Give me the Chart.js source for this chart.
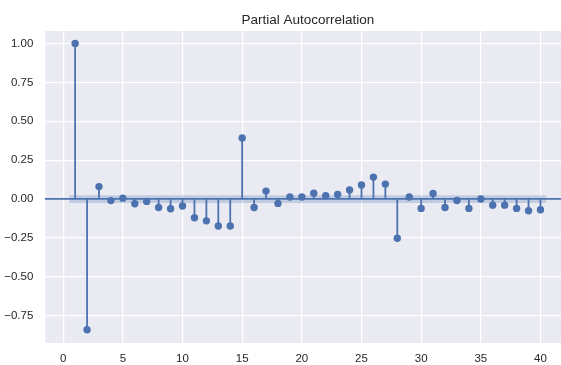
<!DOCTYPE html>
<html>
<head>
<meta charset="utf-8">
<script src="https://cdn.jsdelivr.net/npm/chart.js@4.4.0/dist/chart.umd.min.js"></script>
<style>
  html, body { margin: 0; padding: 0; background: #fff; overflow: hidden; }
  #wrap { width: 574px; height: 365px; }
</style>
</head>
<body>
<div id="wrap"><canvas id="pacfChart" width="574" height="365"></canvas></div>
<script>
// lags and partial autocorrelation values
var lags = [1, 2, 3, 4, 5, 6, 7, 8, 9, 10,
            11, 12, 13, 14, 15, 16, 17, 18, 19, 20,
            21, 22, 23, 24, 25, 26, 27, 28, 29, 30,
            31, 32, 33, 34, 35, 36, 37, 38, 39, 40];
var pacf = [1.00, -0.84, 0.08, -0.01, 0.006, -0.03, -0.015, -0.054, -0.062, -0.045,
            -0.12, -0.14, -0.173, -0.173, 0.393, -0.054, 0.051, -0.028, 0.013, 0.013,
            0.038, 0.021, 0.03, 0.058, 0.09, 0.141, 0.096, -0.252, 0.013, -0.06,
            0.036, -0.054, -0.009, -0.06, 0.0, -0.039, -0.039, -0.06, -0.075, -0.069];
var confLimit = 0.025;   // +/- band around zero
var xTicks = [0, 5, 10, 15, 20, 25, 30, 35, 40];
var yTicks = [-0.75, -0.5, -0.25, 0, 0.25, 0.5, 0.75, 1.0];

var blue = '#4C72B0';

// stems: vertical segments from 0 to each value, broken by gaps
var stems = [];
var markers = [];
for (var i = 0; i < lags.length; i++) {
    stems.push({x: lags[i], y: 0});
    stems.push({x: lags[i], y: pacf[i]});
    stems.push({x: lags[i], y: null});
    markers.push({x: lags[i], y: pacf[i]});
}

// confidence band spans half a lag past first and last
var bandX0 = lags[0] - 0.5;
var bandX1 = lags[lags.length - 1] + 0.5;
var bandUpper = [{x: bandX0, y: confLimit}, {x: bandX1, y: confLimit}];
var bandLower = [{x: bandX0, y: -confLimit}, {x: bandX1, y: -confLimit}];

var titlePlugin = {
    id: 'axTitle',
    afterDraw: function (chart) {
        var ctx = chart.ctx;
        var area = chart.chartArea;
        ctx.save();
        ctx.font = '13.5px "Liberation Sans", Arial, sans-serif';
        ctx.fillStyle = '#262626';
        ctx.textAlign = 'center';
        ctx.textBaseline = 'middle';
        ctx.fillText('Partial Autocorrelation', (area.left + area.right) / 2, 20);
        ctx.restore();
    }
};

var bgPlugin = {
    id: 'plotBg',
    beforeDraw: function (chart) {
        var ctx = chart.ctx;
        var a = chart.chartArea;
        ctx.save();
        ctx.fillStyle = '#EAEAF2';
        ctx.fillRect(a.left, a.top, a.right - a.left, a.bottom - a.top);
        ctx.restore();
    }
};

var tickFont = {family: '"Liberation Sans", Arial, sans-serif', size: 11.5};

const ctx = document.getElementById('pacfChart').getContext('2d');
const myChart = new Chart(ctx, {
    type: 'scatter',
    data: {
        datasets: [
            {
                label: 'pacf',
                data: markers,
                showLine: false,
                pointRadius: 3.7,
                pointHoverRadius: 3.7,
                pointBackgroundColor: blue,
                pointBorderWidth: 0,
                order: 0
            },
            {
                label: 'stems',
                type: 'line',
                data: stems,
                borderColor: blue,
                borderWidth: 1.8,
                pointRadius: 0,
                spanGaps: false,
                fill: false,
                order: 1
            },
            {
                label: 'upper',
                type: 'line',
                data: bandUpper,
                borderWidth: 0,
                pointRadius: 0,
                backgroundColor: 'rgba(76,114,176,0.25)',
                fill: '+1',
                order: 2
            },
            {
                label: 'lower',
                type: 'line',
                data: bandLower,
                borderWidth: 0,
                pointRadius: 0,
                fill: false,
                order: 3
            }
        ]
    },
    plugins: [bgPlugin, titlePlugin],
    options: {
        responsive: false,
        animation: false,
        layout: {padding: {top: 31, right: 0, left: 0, bottom: 0}},
        plugins: {
            legend: {display: false},
            tooltip: {enabled: false},
            title: {display: false}
        },
        scales: {
            x: {
                type: 'linear',
                min: -1.5,
                max: 42.5,
                afterBuildTicks: function (scale) {
                    scale.ticks = xTicks.map(function (v) { return {value: v}; });
                },
                afterFit: function (scale) { scale.height = 22; },
                grid: {color: '#ffffff', lineWidth: 1.2, drawTicks: false},
                border: {display: false},
                ticks: {
                    font: tickFont,
                    color: '#262626',
                    padding: 9,
                    maxRotation: 0,
                    autoSkip: false
                }
            },
            y: {
                type: 'linear',
                min: -0.925,
                max: 1.08,
                afterBuildTicks: function (scale) {
                    scale.ticks = yTicks.map(function (v) { return {value: v}; });
                },
                afterFit: function (scale) { scale.width = 45.3; },
                grid: {
                    drawTicks: false,
                    color: function (c) { return c.tick && c.tick.value === 0 ? blue : '#ffffff'; },
                    lineWidth: function (c) { return c.tick && c.tick.value === 0 ? 1.8 : 1.2; }
                },
                border: {display: false},
                ticks: {
                    font: tickFont,
                    color: '#262626',
                    padding: 12,
                    autoSkip: false,
                    callback: function (v) { return v.toFixed(2).replace('-', '\u2212'); }
                }
            }
        }
    }
});
</script>
</body>
</html>
